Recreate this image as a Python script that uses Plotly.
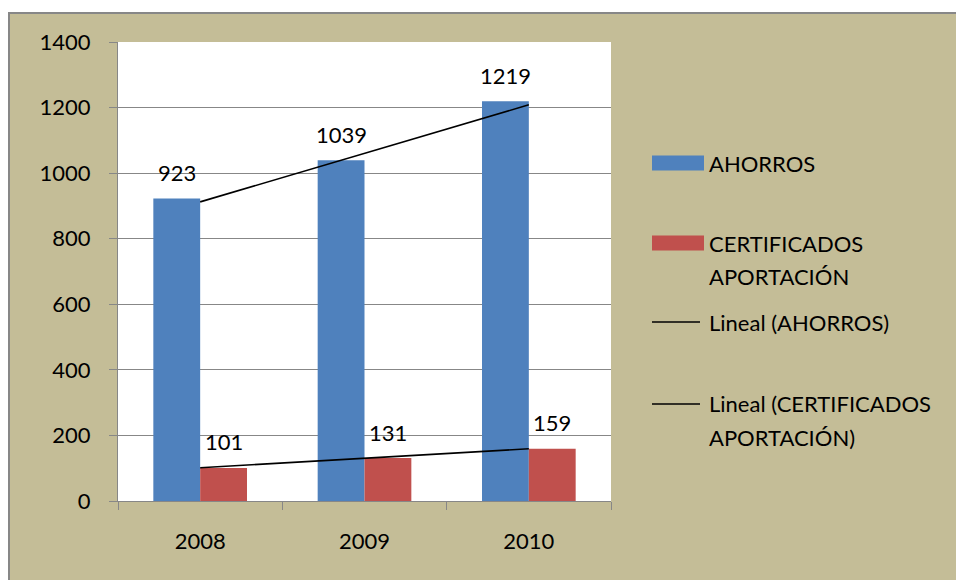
import numpy as np
import plotly.graph_objects as go

# data
years = ["2008", "2009", "2010"]
ahorros = [923, 1039, 1219]
certificados = [101, 131, 159]
series_names = ["AHORROS", "CERTIFICADOS APORTACIÓN"]
trend_names = ["Lineal (AHORROS)", "Lineal (CERTIFICADOS APORTACIÓN)"]

# legend text as it wraps in the original
legend_lines = [
    ["AHORROS"],
    ["CERTIFICADOS", "APORTACIÓN"],
    ["Lineal (AHORROS)"],
    ["Lineal (CERTIFICADOS", "APORTACIÓN)"],
]

blue = "#4F81BD"
red = "#C0504D"
tan = "#C4BD97"
gray = "#878787"
font = "Lato"
fsize = 22

# canvas and plot area in pixels (body margin is removed in the page)
W, H = 956, 580
L, R, T, B = 118, 611, 42, 501


def fx(px):
    return (px - L) / (R - L)


def fy(py):
    return (B - py) / (B - T)


bargap = 0.43

# excel style linear trendlines
idx = np.arange(len(years))
trend_a = np.polyval(np.polyfit(idx, ahorros, 1), idx)
trend_c = np.polyval(np.polyfit(idx, certificados, 1), idx)

fig = go.Figure()
fig.add_bar(x=years, y=ahorros, name=series_names[0], marker=dict(color=blue, line_width=0))
fig.add_bar(x=years, y=certificados, name=series_names[1], marker=dict(color=red, line_width=0))
fig.add_scatter(x=years, y=trend_a, mode="lines", name=trend_names[0],
                line=dict(color="black", width=1.6))
fig.add_scatter(x=years, y=trend_c, mode="lines", name=trend_names[1],
                line=dict(color="black", width=1.6))

# value labels above the bars (x given as category index)
cat_w = (R - L) / len(years)
off = cat_w * (1 - bargap) / 4
annotations = []
for vals, shift in ((ahorros, -off), (certificados, off)):
    for i, v in enumerate(vals):
        annotations.append(dict(
            x=i, y=v, text=str(v), xshift=shift, yshift=26, showarrow=False,
            yanchor="middle", font=dict(family=font, size=fsize, color="black")))

# background panel + white plot area
shapes = [
    dict(type="rect", xref="paper", yref="paper", layer="below",
         x0=fx(9), x1=fx(990), y0=fy(13), y1=fy(620),
         fillcolor=tan, line=dict(color=gray, width=2)),
    dict(type="rect", xref="paper", yref="paper", layer="below",
         x0=0, x1=1, y0=0, y1=1, fillcolor="white", line_width=0),
]

# hand made legend to match the wide swatches
leg_y = [163, 243, 322, 404]
leg_kind = ["bar", "bar", "line", "line"]
leg_col = [blue, red, "black", "black"]
for kind, col, y, lines in zip(leg_kind, leg_col, leg_y, legend_lines):
    if kind == "bar":
        shapes.append(dict(type="rect", xref="paper", yref="paper",
                           x0=fx(652), x1=fx(704), y0=fy(y - 7.5), y1=fy(y + 7.5),
                           fillcolor=col, line_width=0))
    else:
        shapes.append(dict(type="line", xref="paper", yref="paper",
                           x0=fx(652), x1=fx(700), y0=fy(y), y1=fy(y),
                           line=dict(color=col, width=1.6)))
    for i, txt in enumerate(lines):
        annotations.append(dict(
            xref="paper", yref="paper", x=fx(707), y=fy(y + 33 * i),
            xanchor="left", yanchor="middle", text=txt, showarrow=False,
            font=dict(family=font, size=fsize, color="black")))

fig.update_layout(
    width=W, height=H,
    margin=dict(l=L, r=W - R, t=T, b=H - B, pad=0),
    paper_bgcolor="white", plot_bgcolor="white",
    showlegend=False,
    barmode="group", bargap=bargap, bargroupgap=0,
    font=dict(family=font, size=fsize, color="black"),
    shapes=shapes, annotations=annotations,
)
fig.update_xaxes(
    type="category", range=[-0.5, len(years) - 0.5],
    showgrid=False, showline=True, linecolor=gray, linewidth=1.3,
    ticks="outside", ticklen=8, tickcolor=gray, tickwidth=1.3,
    tickson="boundaries", ticklabelstandoff=20,
    tickfont=dict(family=font, size=fsize, color="black"),
)
fig.update_yaxes(
    range=[0, 1400], dtick=200, showgrid=True, gridcolor=gray, gridwidth=1.3,
    zeroline=False, showline=True, linecolor=gray, linewidth=1.3,
    ticks="outside", ticklen=8, tickcolor=gray, tickwidth=1.3,
    ticklabelstandoff=14,
    tickfont=dict(family=font, size=fsize, color="black"),
)

# figure is exactly the window size, so drop the default body margin
fig.write_html("out.html", config={"displayModeBar": False},
               post_script="document.body.style.margin = '0';")
